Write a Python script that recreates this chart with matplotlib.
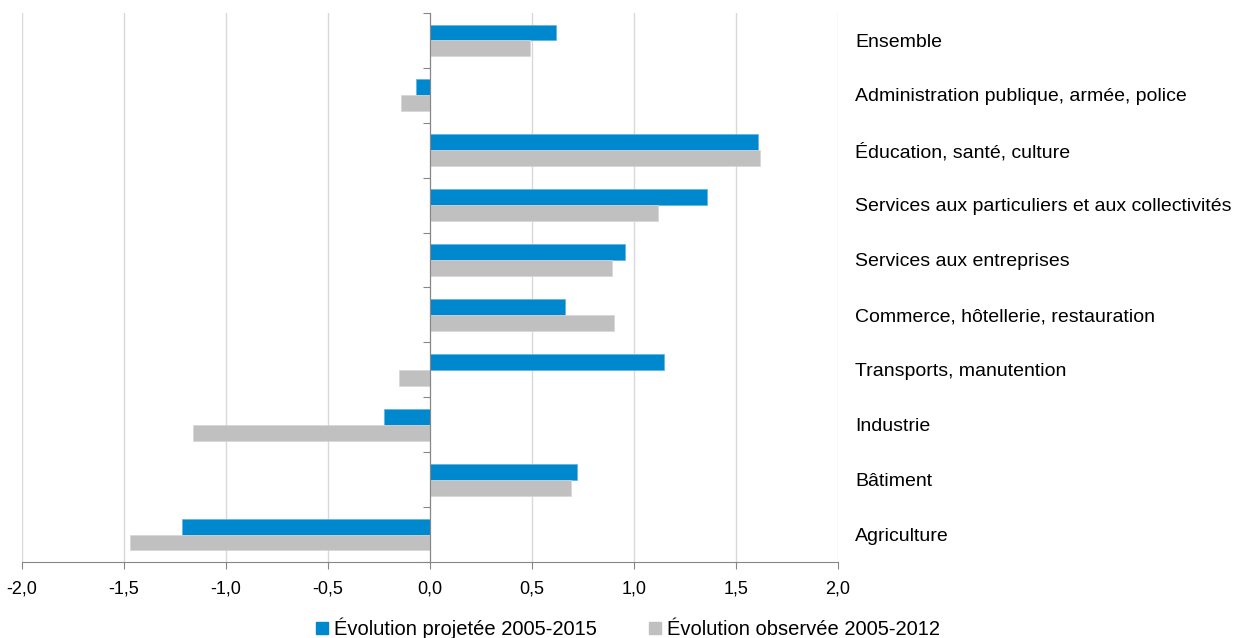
import numpy as np
import matplotlib.pyplot as plt
import matplotlib.transforms as mtransforms
from matplotlib.patches import Patch

plt.rcParams['font.family'] = ['Liberation Sans', 'DejaVu Sans']

# categories from top to bottom
secteurs = ["Ensemble", "Administration publique, armée, police",
            "Éducation, santé, culture",
            "Services aux particuliers et aux collectivités",
            "Services aux entreprises", "Commerce, hôtellerie, restauration",
            "Transports, manutention", "Industrie", "Bâtiment", "Agriculture"]
projetee = [0.62, -0.07, 1.61, 1.36, 0.955, 0.66, 1.145, -0.225, 0.72, -1.215]
observee = [0.49, -0.14, 1.62, 1.12, 0.89, 0.90, -0.15, -1.16, 0.69, -1.47]
xticks = [-2.0, -1.5, -1.0, -0.5, 0.0, 0.5, 1.0, 1.5, 2.0]

bleu = '#0088cf'
gris = '#c0c0c0'
axe = '#868686'

fig = plt.figure(figsize=(12.56, 6.38), dpi=100)
ax = fig.add_axes([22/1256, 76/638, 816/1256, 549/638])

n = len(secteurs)
y = np.arange(n)[::-1]
h = 0.29
ax.barh(y + h/2, projetee, height=h, color=bleu, edgecolor='#5fb3e3', linewidth=0.5, zorder=3)
ax.barh(y - h/2, observee, height=h, color=gris, edgecolor='#d6d6d6', linewidth=0.5, zorder=3)

ax.set_xlim(-2, 2)
ax.set_ylim(-0.5, n - 0.5)
ax.set_xticks(xticks)
ax.set_xticklabels([f"{v:.1f}".replace('.', ',') for v in xticks], fontsize=13)
ax.set_yticks(np.arange(n + 1) - 0.5)
ax.set_yticklabels([])
ax.grid(axis='x', color='#d9d9d9', linewidth=1, zorder=0)

for s in ['top', 'right']:
    ax.spines[s].set_visible(False)
ax.spines['left'].set_position(('data', 0))
ax.spines['left'].set_color(axe)
ax.spines['bottom'].set_color(axe)
ax.spines['left'].set_zorder(4)
ax.tick_params(axis='y', direction='out', length=5, color=axe)
ax.tick_params(axis='x', direction='out', length=5, color=axe, pad=8)

trans = mtransforms.blended_transform_factory(ax.transAxes, ax.transData)
for yi, nom in zip(y, secteurs):
    ax.text(1.021, yi - 0.03, nom, transform=trans, fontsize=14, va='center', ha='left')

handles = [Patch(color=bleu), Patch(color=gris)]
fig.legend(handles, ["Évolution projetée 2005-2015", "Évolution observée 2005-2012"],
           loc='lower center', bbox_to_anchor=(0.5, -0.03), ncol=2, frameon=False,
           fontsize=14.5, handlelength=0.6, handleheight=0.6, handletextpad=0.3,
           columnspacing=2.6)

fig.savefig('out.png', dpi=100)
